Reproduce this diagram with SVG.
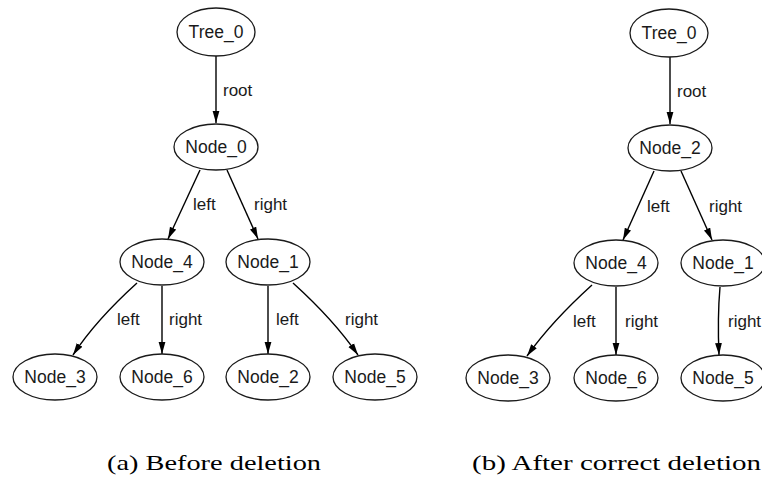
<svg xmlns="http://www.w3.org/2000/svg" width="762" height="482" viewBox="0 0 762 482">
<style>
  .node ellipse { fill: #ffffff; stroke: #1a1a1a; stroke-width: 1.3; }
  .node text { font-family: "Liberation Sans", Arial, sans-serif; font-size: 17.5px; fill: #1a1a1a; text-anchor: middle; }
  .edge { fill: none; stroke: #000; stroke-width: 1.4; marker-end: url(#arrow); }
  .elabel { font-family: "Liberation Sans", Arial, sans-serif; font-size: 17px; fill: #1a1a1a; }
  .caption { font-family: "Liberation Serif", "Times New Roman", serif; font-size: 22px; fill: #000; }
</style>
<defs>
  <marker id="arrow" markerUnits="userSpaceOnUse" markerWidth="13" markerHeight="10" refX="12" refY="4" orient="auto">
    <path d="M0,0.6 L12,4 L0,7.4 Z" fill="#000"/>
  </marker>
</defs>
<rect width="762" height="482" fill="#ffffff"/>

<g id="connectors">
  <!-- (a) -->
  <path class="edge" d="M216,56 L216,123"/>
  <path class="edge" d="M200,170 L168,239"/>
  <path class="edge" d="M227,170 L258,239"/>
  <path class="edge" d="M137,283 C116,302 92,326 73,355"/>
  <path class="edge" d="M162,286 L162,354"/>
  <path class="edge" d="M268,286 L268,354"/>
  <path class="edge" d="M293,283 C314,302 338,326 358,355"/>
  <!-- (b) -->
  <path class="edge" d="M670,57 L670,124"/>
  <path class="edge" d="M654,171 L623,240"/>
  <path class="edge" d="M681,171 L712,240"/>
  <path class="edge" d="M592,285 C571,304 547,328 527,356"/>
  <path class="edge" d="M616,287 L616,355"/>
  <path class="edge" d="M720,287 C718,310 718,332 719,355"/>
  <text class="elabel" x="223" y="96">root</text>
  <text class="elabel" x="193" y="210">left</text>
  <text class="elabel" x="254" y="210">right</text>
  <text class="elabel" x="117" y="325">left</text>
  <text class="elabel" x="169" y="325">right</text>
  <text class="elabel" x="276" y="325">left</text>
  <text class="elabel" x="345" y="325">right</text>
  <text class="elabel" x="677" y="97">root</text>
  <text class="elabel" x="647" y="212">left</text>
  <text class="elabel" x="709" y="212">right</text>
  <text class="elabel" x="573" y="327">left</text>
  <text class="elabel" x="625" y="327">right</text>
  <text class="elabel" x="728" y="327">right</text>
</g>

<g id="a_Tree_0" class="node"><ellipse cx="216" cy="32" rx="39" ry="24"/><text x="216" y="38">Tree_0</text></g>
<g id="a_Node_0" class="node"><ellipse cx="216" cy="147" rx="42" ry="23"/><text x="216" y="153">Node_0</text></g>
<g id="a_Node_4" class="node"><ellipse cx="162" cy="262" rx="42" ry="23"/><text x="162" y="268">Node_4</text></g>
<g id="a_Node_1" class="node"><ellipse cx="268" cy="262" rx="42" ry="23"/><text x="268" y="268">Node_1</text></g>
<g id="a_Node_3" class="node"><ellipse cx="55" cy="377" rx="42" ry="23"/><text x="55" y="383">Node_3</text></g>
<g id="a_Node_6" class="node"><ellipse cx="162" cy="377" rx="42" ry="23"/><text x="162" y="383">Node_6</text></g>
<g id="a_Node_2" class="node"><ellipse cx="268" cy="377" rx="42" ry="23"/><text x="268" y="383">Node_2</text></g>
<g id="a_Node_5" class="node"><ellipse cx="375" cy="377" rx="42" ry="23"/><text x="375" y="383">Node_5</text></g>

<g id="b_Tree_0" class="node"><ellipse cx="669" cy="33" rx="39" ry="24"/><text x="669" y="39">Tree_0</text></g>
<g id="b_Node_2" class="node"><ellipse cx="670" cy="148" rx="42" ry="23"/><text x="670" y="154">Node_2</text></g>
<g id="b_Node_4" class="node"><ellipse cx="616" cy="263" rx="42" ry="23"/><text x="616" y="269">Node_4</text></g>
<g id="b_Node_1" class="node"><ellipse cx="723" cy="263" rx="42" ry="23"/><text x="723" y="269">Node_1</text></g>
<g id="b_Node_3" class="node"><ellipse cx="508" cy="378" rx="42" ry="23"/><text x="508" y="384">Node_3</text></g>
<g id="b_Node_6" class="node"><ellipse cx="616" cy="378" rx="42" ry="23"/><text x="616" y="384">Node_6</text></g>
<g id="b_Node_5" class="node"><ellipse cx="723" cy="378" rx="42" ry="23"/><text x="723" y="384">Node_5</text></g>

<text class="caption" x="107" y="470" textLength="214" lengthAdjust="spacingAndGlyphs">(a) Before deletion</text>
<text class="caption" x="472" y="470" textLength="289" lengthAdjust="spacingAndGlyphs">(b) After correct deletion</text>
</svg>
